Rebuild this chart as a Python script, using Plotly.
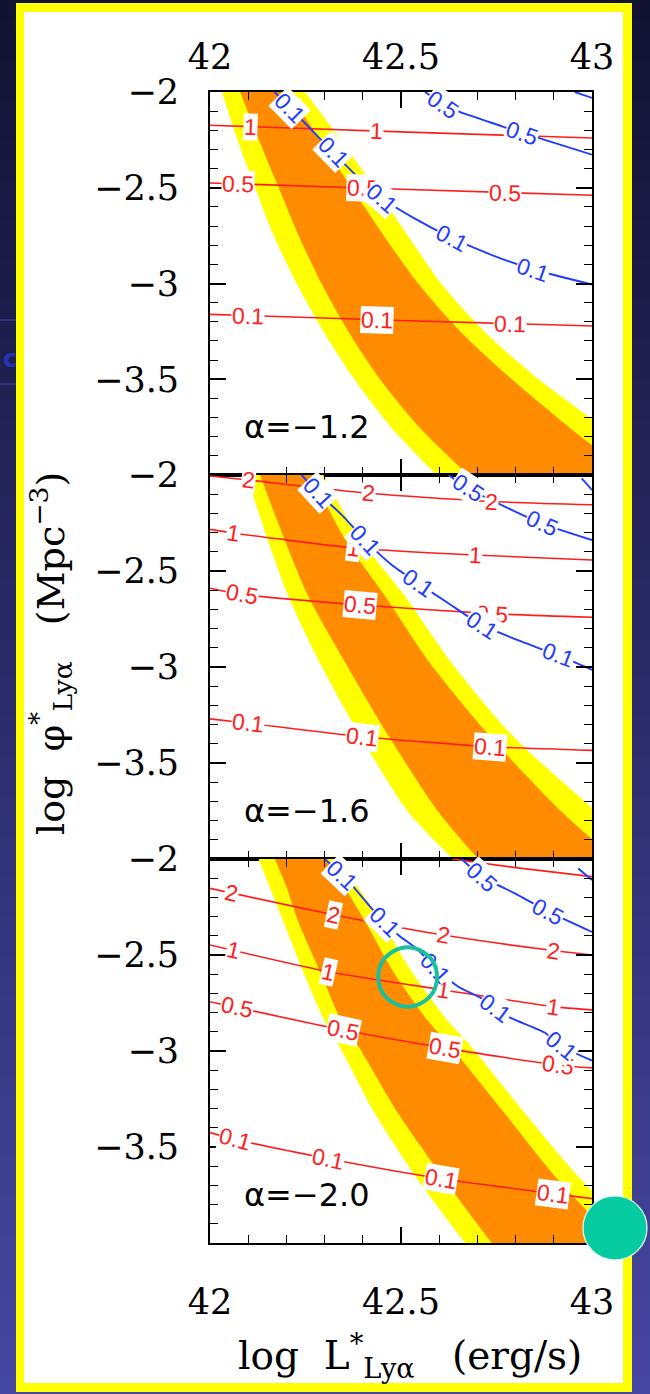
import numpy as np
import plotly.graph_objects as go

# ---------------- data ----------------
L_RANGE = [42.0, 43.0]
PHI_RANGE = [-4.0, -2.0]
x_tickvals = [42.0, 42.5, 43.0]
x_ticktext = ["42", "42.5", "43"]
y_tickvals = [-3.5, -3.0, -2.5, -2.0]
y_ticktext = ["−3.5", "−3", "−2.5", "−2"]
alpha_labels = ["α=−1.2", "α=−1.6", "α=−2.0"]

# confidence bands: log L* of band edges at given log phi*
a12_phi = [-2.0, -2.25, -2.5, -2.75, -3.0, -3.25, -3.5, -3.75, -4.0]
a12_yellow_lo = [42.031, 42.072, 42.118, 42.167, 42.227, 42.297, 42.378, 42.474, 42.593]
a12_orange_lo = [42.079, 42.128, 42.180, 42.232, 42.292, 42.362, 42.445, 42.548, 42.676]
a12_orange_hi = [42.205, 42.288, 42.371, 42.455, 42.545, 42.655, 42.790, 42.940, 43.100]
a12_yellow_hi = [42.249, 42.342, 42.432, 42.518, 42.605, 42.718, 42.860, 43.030, 43.200]

a16_phi = [-2.0, -2.32, -2.63, -2.98, -3.37, -3.755, -4.0]
a16_yellow_lo = [42.096, 42.148, 42.205, 42.288, 42.397, 42.519, 42.637]
a16_orange_lo = [42.131, 42.192, 42.257, 42.355, 42.471, 42.598, 42.702]
a16_orange_hi = [42.266, 42.349, 42.458, 42.576, 42.737, 42.921, 43.060]
a16_yellow_hi = [42.297, 42.388, 42.510, 42.633, 42.798, 43.012, 43.147]

a20_phi = [-2.0, -2.15, -2.326, -2.587, -2.847, -2.98, -3.326, -3.673, -4.0]
a20_yellow_lo = [42.127, 42.157, 42.192, 42.244, 42.301, 42.340, 42.432, 42.545, 42.668]
a20_orange_lo = [42.170, 42.201, 42.231, 42.288, 42.345, 42.390, 42.493, 42.615, 42.737]
a20_orange_hi = [42.301, 42.353, 42.406, 42.480, 42.572, 42.632, 42.772, 42.912, 43.069]
a20_yellow_hi = [42.336, 42.388, 42.449, 42.528, 42.624, 42.685, 42.825, 42.973, 43.147]

# contours: (log L*, log phi*) points; label positions in log L*
a12_red_1 = [(42.0, -2.174), (42.5, -2.208), (43.0, -2.24)]
a12_red_05 = [(42.0, -2.475), (42.5, -2.508), (43.0, -2.539)]
a12_red_01 = [(42.0, -3.161), (42.5, -3.193), (43.0, -3.222)]
a12_blue_01 = [(42.169, -2.0), (42.25, -2.165), (42.33, -2.33), (42.40, -2.47), (42.449, -2.553),
               (42.54, -2.665), (42.633, -2.762), (42.74, -2.853), (42.846, -2.927), (43.0, -3.005)]
a12_blue_05 = [(42.563, -2.0), (42.611, -2.066), (42.65, -2.101), (42.764, -2.179), (42.816, -2.215),
               (42.868, -2.245), (43.0, -2.327)]
a12_blue_1 = [(42.955, -2.0), (43.0, -2.031)]
a12_red_1_lab = [42.105, 42.436]
a12_red_05_lab = [42.074, 42.401, 42.772]
a12_red_01_lab = [42.10, 42.436, 42.785]
a12_blue_01_lab = [42.209, 42.323, 42.449, 42.633, 42.846]
a12_blue_05_lab = [42.611, 42.816]

a16_red_2 = [(42.0, -2.005), (42.1, -2.026), (42.414, -2.095), (42.737, -2.138), (43.0, -2.155)]
a16_red_1 = [(42.0, -2.283), (42.061, -2.302), (42.375, -2.38), (42.694, -2.417), (43.0, -2.443)]
a16_red_05 = [(42.0, -2.59), (42.083, -2.622), (42.393, -2.677), (42.737, -2.722), (43.0, -2.741)]
a16_red_01 = [(42.0, -3.27), (42.1, -3.293), (42.397, -3.363), (42.733, -3.415), (43.0, -3.434)]
a16_blue_01 = [(42.24, -2.0), (42.284, -2.095), (42.345, -2.208), (42.406, -2.339), (42.476, -2.469),
               (42.545, -2.564), (42.624, -2.668), (42.711, -2.781), (42.816, -2.868), (42.912, -2.94),
               (43.0, -3.015)]
a16_blue_05 = [(42.624, -2.0), (42.676, -2.069), (42.772, -2.165), (42.868, -2.252), (43.0, -2.339)]
a16_blue_1 = [(42.973, -2.017), (43.0, -2.078)]
a16_red_2_lab = [42.10, 42.414, 42.737]
a16_red_1_lab = [42.061, 42.375, 42.694]
a16_red_05_lab = [42.083, 42.393, 42.737]
a16_red_01_lab = [42.10, 42.397, 42.733]
a16_blue_01_lab = [42.284, 42.406, 42.545, 42.711, 42.912]
a16_blue_05_lab = [42.676, 42.868]

a20_red_5 = [(42.633, -2.0), (42.8, -2.045), (43.0, -2.092)]
a20_red_2 = [(42.0, -2.153), (42.323, -2.29), (42.611, -2.396), (42.899, -2.477), (43.0, -2.5)]
a20_red_1 = [(42.0, -2.448), (42.31, -2.587), (42.611, -2.682), (42.899, -2.769), (43.0, -2.786)]
a20_red_05 = [(42.0, -2.743), (42.349, -2.891), (42.615, -2.985), (42.912, -3.074), (43.0, -3.088)]
a20_red_01 = [(42.0, -3.425), (42.065, -3.46), (42.31, -3.561), (42.606, -3.665), (42.899, -3.743),
              (43.0, -3.769)]
a20_blue_01 = [(42.301, -2.0), (42.345, -2.083), (42.371, -2.135), (42.423, -2.257), (42.458, -2.326),
               (42.493, -2.396), (42.545, -2.474), (42.589, -2.569), (42.65, -2.665), (42.711, -2.726),
               (42.746, -2.778), (42.79, -2.83), (42.877, -2.905), (42.92, -2.975), (43.0, -3.05)]
a20_blue_05 = [(42.659, -2.0), (42.711, -2.092), (42.798, -2.179), (42.886, -2.274), (43.0, -2.38)]
a20_blue_1 = [(42.964, -2.049), (43.0, -2.11)]
a20_red_2_lab = [42.057, 42.323, 42.611, 42.899]
a20_red_1_lab = [42.061, 42.31, 42.611, 42.899]
a20_red_05_lab = [42.07, 42.349, 42.615, 42.912]
a20_red_01_lab = [42.065, 42.31, 42.606, 42.899]
a20_blue_01_lab = [42.345, 42.458, 42.589, 42.746, 42.92]
a20_blue_05_lab = [42.711, 42.886]

# highlighted point (circle) in the alpha=-2.0 panel
circle_L, circle_phi = 42.5175, -2.587

# ---------------- layout geometry (pixels) ----------------
W, H = 650, 1394
PX0, PX1 = 210, 592
PANEL_PX = [(92, 475), (475, 859), (859, 1243)]
PX_PER_L = (PX1 - PX0) / (L_RANGE[1] - L_RANGE[0])
PX_PER_PHI = (PANEL_PX[0][1] - PANEL_PX[0][0]) / (PHI_RANGE[1] - PHI_RANGE[0])

RED = "#ff1e1e"
BLUE = "#1f3cff"
ORANGE = "#ff8c00"
YELLOW = "#ffff00"
TEAL = "#1bbf9d"

panels = [
    dict(phi=a12_phi, ylo=a12_yellow_lo, olo=a12_orange_lo, ohi=a12_orange_hi, yhi=a12_yellow_hi,
         red=[(a12_red_1, "1", a12_red_1_lab), (a12_red_05, "0.5", a12_red_05_lab),
              (a12_red_01, "0.1", a12_red_01_lab)],
         blue=[(a12_blue_01, "0.1", a12_blue_01_lab), (a12_blue_05, "0.5", a12_blue_05_lab),
               (a12_blue_1, "1", [])]),
    dict(phi=a16_phi, ylo=a16_yellow_lo, olo=a16_orange_lo, ohi=a16_orange_hi, yhi=a16_yellow_hi,
         red=[(a16_red_2, "2", a16_red_2_lab), (a16_red_1, "1", a16_red_1_lab),
              (a16_red_05, "0.5", a16_red_05_lab), (a16_red_01, "0.1", a16_red_01_lab)],
         blue=[(a16_blue_01, "0.1", a16_blue_01_lab), (a16_blue_05, "0.5", a16_blue_05_lab),
               (a16_blue_1, "1", [])]),
    dict(phi=a20_phi, ylo=a20_yellow_lo, olo=a20_orange_lo, ohi=a20_orange_hi, yhi=a20_yellow_hi,
         red=[(a20_red_5, "5", []), (a20_red_2, "2", a20_red_2_lab), (a20_red_1, "1", a20_red_1_lab),
              (a20_red_05, "0.5", a20_red_05_lab), (a20_red_01, "0.1", a20_red_01_lab)],
         blue=[(a20_blue_01, "0.1", a20_blue_01_lab), (a20_blue_05, "0.5", a20_blue_05_lab),
               (a20_blue_1, "1", [])]),
]

fig = go.Figure()
annotations = []
shapes = []


def px2paper_x(px):
    return px / W


def px2paper_y(py):
    return 1 - py / H


# background gradient + yellow frame + white slide
top_c = np.array([0x12, 0x12, 0x32])
bot_c = np.array([0x47, 0x47, 0xa4])
NSTRIP = 70
for k in range(NSTRIP):
    t = (k + 0.5) / NSTRIP
    c = (top_c * (1 - t) + bot_c * t).astype(int)
    shapes.append(dict(type="rect", xref="paper", yref="paper", x0=0, x1=1,
                       y0=max(0.0, px2paper_y((k + 1) * H / NSTRIP + 1)), y1=px2paper_y(k * H / NSTRIP),
                       fillcolor="rgb(%d,%d,%d)" % tuple(c), line=dict(width=0), layer="below"))
# remnant of slide title at far left
for yy in (320, 384):
    shapes.append(dict(type="line", xref="paper", yref="paper", x0=0, x1=px2paper_x(16),
                       y0=px2paper_y(yy), y1=px2paper_y(yy), line=dict(color="#3d4d9e", width=1),
                       layer="below"))
annotations.append(dict(x=px2paper_x(1), y=px2paper_y(359), xref="paper", yref="paper",
                        text="<b>c</b>", showarrow=False, xanchor="left", yanchor="middle",
                        font=dict(family="DejaVu Sans", size=24, color="#2236b4")))
shapes.append(dict(type="rect", xref="paper", yref="paper", x0=px2paper_x(16), x1=px2paper_x(632),
                   y0=px2paper_y(1392), y1=px2paper_y(3), fillcolor=YELLOW, line=dict(width=0),
                   layer="below"))
shapes.append(dict(type="rect", xref="paper", yref="paper", x0=px2paper_x(24), x1=px2paper_x(623),
                   y0=px2paper_y(1383), y1=px2paper_y(12), fillcolor="white", line=dict(width=0),
                   layer="below"))

LABEL_FONT = "Liberation Sans, Arial, sans-serif"


def add_labels(pts, text, labs, color, xa, ya):
    L = np.array([p[0] for p in pts])
    P = np.array([p[1] for p in pts])
    for l in labs:
        phi = float(np.interp(l, L, P))
        k = int(np.clip(np.searchsorted(L, l) - 1, 0, len(L) - 2))
        slope = (P[k + 1] - P[k]) / (L[k + 1] - L[k])
        ang = float(np.degrees(np.arctan(-slope * PX_PER_PHI / PX_PER_L)))
        annotations.append(dict(x=l, y=phi, xref=xa, yref=ya, text=text, showarrow=False,
                                textangle=ang, xanchor="center", yanchor="middle",
                                font=dict(family=LABEL_FONT, size=23, color=color),
                                bgcolor="white", borderpad=0))


for i, pnl in enumerate(panels):
    suf = "" if i == 0 else str(i + 1)
    xa, ya = "x" + suf, "y" + suf
    # bands
    for lo, hi, col in ((pnl["ylo"], pnl["yhi"], YELLOW), (pnl["olo"], pnl["ohi"], ORANGE)):
        fig.add_trace(go.Scatter(x=lo, y=pnl["phi"], mode="lines",
                                 line=dict(width=0, shape="spline", smoothing=0.8),
                                 xaxis=xa, yaxis=ya, hoverinfo="skip", showlegend=False))
        fig.add_trace(go.Scatter(x=hi, y=pnl["phi"], mode="lines", fill="tonextx", fillcolor=col,
                                 line=dict(width=0, shape="spline", smoothing=0.8),
                                 xaxis=xa, yaxis=ya, hoverinfo="skip", showlegend=False))
    # contours
    for group, col, wid in ((pnl["red"], RED, 1.6), (pnl["blue"], BLUE, 1.9)):
        for pts, text, labs in group:
            fig.add_trace(go.Scatter(x=[p[0] for p in pts], y=[p[1] for p in pts], mode="lines",
                                     line=dict(color=col, width=wid, shape="spline", smoothing=0.6),
                                     xaxis=xa, yaxis=ya, hoverinfo="skip", showlegend=False))
    for pts, text, labs in pnl["red"]:
        add_labels(pts, text, labs, RED, xa, ya)
    for pts, text, labs in pnl["blue"]:
        add_labels(pts, text, labs, BLUE, xa, ya)
    # alpha label
    annotations.append(dict(x=42.084, y=-3.75, xref=xa, yref=ya, text=alpha_labels[i],
                            showarrow=False, xanchor="left", yanchor="middle",
                            font=dict(family="DejaVu Sans", size=32, color="black")))

    y0px, y1px = PANEL_PX[i]
    common = dict(showline=True, linecolor="black", linewidth=1.8, mirror="ticks",
                  ticks="inside", tickcolor="black", tickwidth=1.5, ticklen=16,
                  showgrid=False, zeroline=False, automargin=False,
                  tickfont=dict(family="DejaVu Serif", size=35, color="black"))
    xcfg = dict(common, domain=[px2paper_x(PX0), px2paper_x(PX1)], range=L_RANGE, anchor=ya,
                tickmode="array", tickvals=x_tickvals, ticktext=x_ticktext,
                minor=dict(ticks="inside", ticklen=8, tickwidth=1.3, tickcolor="black",
                           tickmode="linear", tick0=42.0, dtick=0.1, showgrid=False))
    if i == 0:
        xcfg.update(side="top", showticklabels=True, ticklabelstandoff=7)
    elif i == 1:
        xcfg.update(showticklabels=False)
    else:
        xcfg.update(side="bottom", showticklabels=True, ticklabelstandoff=27)
    ycfg = dict(common, domain=[px2paper_y(y1px), px2paper_y(y0px)], range=PHI_RANGE, anchor=xa,
                tickmode="array", tickvals=y_tickvals, ticktext=y_ticktext,
                ticklabelstandoff=22,
                minor=dict(ticks="inside", ticklen=8, tickwidth=1.3, tickcolor="black",
                           tickmode="linear", tick0=-4.0, dtick=0.1, showgrid=False))
    fig.layout["xaxis" + suf] = xcfg
    fig.layout["yaxis" + suf] = ycfg

# highlight ring in the bottom panel (drawn as a glyph so it sits above the contour labels)
annotations.append(dict(x=circle_L, y=circle_phi, xref="x3", yref="y3", text="◯", showarrow=False,
                        xanchor="center", yanchor="middle",
                        font=dict(family="DejaVu Sans", size=62, color=TEAL)))
# filled teal dot at bottom-right
shapes.append(dict(type="circle", xref="paper", yref="paper", x0=px2paper_x(583), x1=px2paper_x(647),
                   y0=px2paper_y(1260), y1=px2paper_y(1196), fillcolor="#08cca1",
                   line=dict(color="#e8fff8", width=1.2), layer="above"))

# axis titles
NB = "\u00a0"
annotations.append(dict(x=px2paper_x(410), y=px2paper_y(1356), xref="paper", yref="paper",
                        text="log" + NB * 2 + "L<sup>*</sup><sub>Lyα</sub>" + NB * 3 + "(erg/s)",
                        showarrow=False, xanchor="center", yanchor="middle",
                        font=dict(family="DejaVu Serif", size=39, color="black")))
annotations.append(dict(x=px2paper_x(50), y=px2paper_y(654), xref="paper", yref="paper",
                        text="log" + NB * 2 + "φ<sup>*</sup><sub>Lyα</sub>" + NB * 3 + "(Mpc<sup>−3</sup>)",
                        showarrow=False, textangle=-90, xanchor="center", yanchor="middle",
                        font=dict(family="DejaVu Serif", size=38, color="black")))

fig.update_layout(template="none", width=W, height=H, autosize=False,
                  margin=dict(l=0, r=0, t=0, b=0, pad=0),
                  paper_bgcolor="#1a1a40", plot_bgcolor="rgba(0,0,0,0)", showlegend=False,
                  shapes=shapes, annotations=annotations)

fig.write_html("out.html", config={"displayModeBar": False},
               post_script="document.body.style.margin='0px';")
